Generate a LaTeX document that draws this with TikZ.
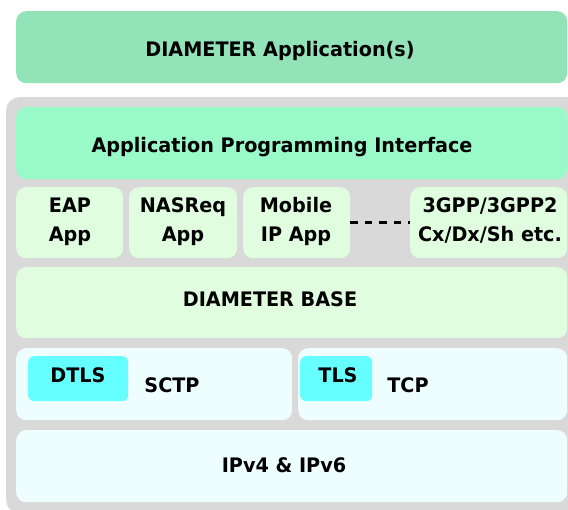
\documentclass[tikz,border=0pt]{standalone}
\usepackage{fontspec}
\setmainfont{DejaVu Sans}[FakeStretch=0.96]
\definecolor{appgreen}{HTML}{92E3B8}
\definecolor{apimint}{HTML}{99F9C9}
\definecolor{paleg}{HTML}{E0FDE0}
\definecolor{palec}{HTML}{EEFEFE}
\definecolor{cyanb}{HTML}{66FFFF}
\definecolor{graybg}{HTML}{D9D9D9}
\tikzset{
  box/.style={fill=#1, draw=none, rounded corners=10pt, inner sep=0pt, anchor=north west},
  lbl/.style={font=\bfseries\fontsize{20}{29}\selectfont, anchor=base, inner sep=0pt, align=center},
}
\begin{document}
\begin{tikzpicture}[x=1pt,y=-1pt]
\useasboundingbox (0,0) rectangle (568,510);
\begin{scope}
\clip (0,0) rectangle (568,510);
\node[box=graybg, rounded corners=13pt, minimum width=590pt, minimum height=416pt] (outer) at (6,97) {};
\node[box=appgreen, minimum width=551pt, minimum height=72pt] (dapp) at (16,11) {};
\node[box=apimint, minimum width=551pt, minimum height=72pt] (api) at (16,107) {};
\node[box=paleg, minimum width=107pt, minimum height=71pt] (eap) at (16,187) {};
\node[box=paleg, minimum width=108pt, minimum height=71pt] (nas) at (129,187) {};
\node[box=paleg, minimum width=107pt, minimum height=71pt] (mob) at (243,187) {};
\node[box=paleg, minimum width=157pt, minimum height=71pt] (gpp) at (410,187) {};
\node[box=paleg, minimum width=551pt, minimum height=71pt] (base) at (16,267) {};
\node[box=palec, minimum width=276pt, minimum height=72pt] (sctp) at (16,348) {};
\node[box=palec, minimum width=269pt, minimum height=72pt] (tcp) at (298,348) {};
\node[box=cyanb, rounded corners=6pt, minimum width=100pt, minimum height=45pt] (dtls) at (28,356) {};
\node[box=cyanb, rounded corners=6pt, minimum width=72pt, minimum height=45pt] (tls) at (300,356) {};
\node[box=palec, minimum width=551pt, minimum height=72pt] (ip) at (16,430) {};
\draw[line width=2.4pt, dash pattern=on 7.5pt off 7pt] (mob.east) -- (gpp.west);
\node[lbl] (tdapp) at (280,57) {DIAMETER Application(s)};
\node[lbl] (tapi) at (282,153) {Application Programming Interface};
\node[lbl] (teap) at (70,242) {EAP\\App};
\node[lbl] (tnas) at (183,242) {NASReq\\App};
\node[lbl] (tmob) at (296,242) {Mobile\\IP App};
\node[lbl] (tgpp) at (490,242) {3GPP/3GPP2\\Cx/Dx/Sh etc.};
\node[lbl] (tbase) at (270,307) {DIAMETER BASE};
\node[lbl] (tdtls) at (78,383) {DTLS};
\node[lbl] (tsctp) at (172,393) {SCTP};
\node[lbl] (ttls) at (338,383) {TLS};
\node[lbl] (ttcp) at (408,393) {TCP};
\node[lbl] (tip) at (284,473) {IPv4 \& IPv6};
\end{scope}
\end{tikzpicture}
\end{document}
